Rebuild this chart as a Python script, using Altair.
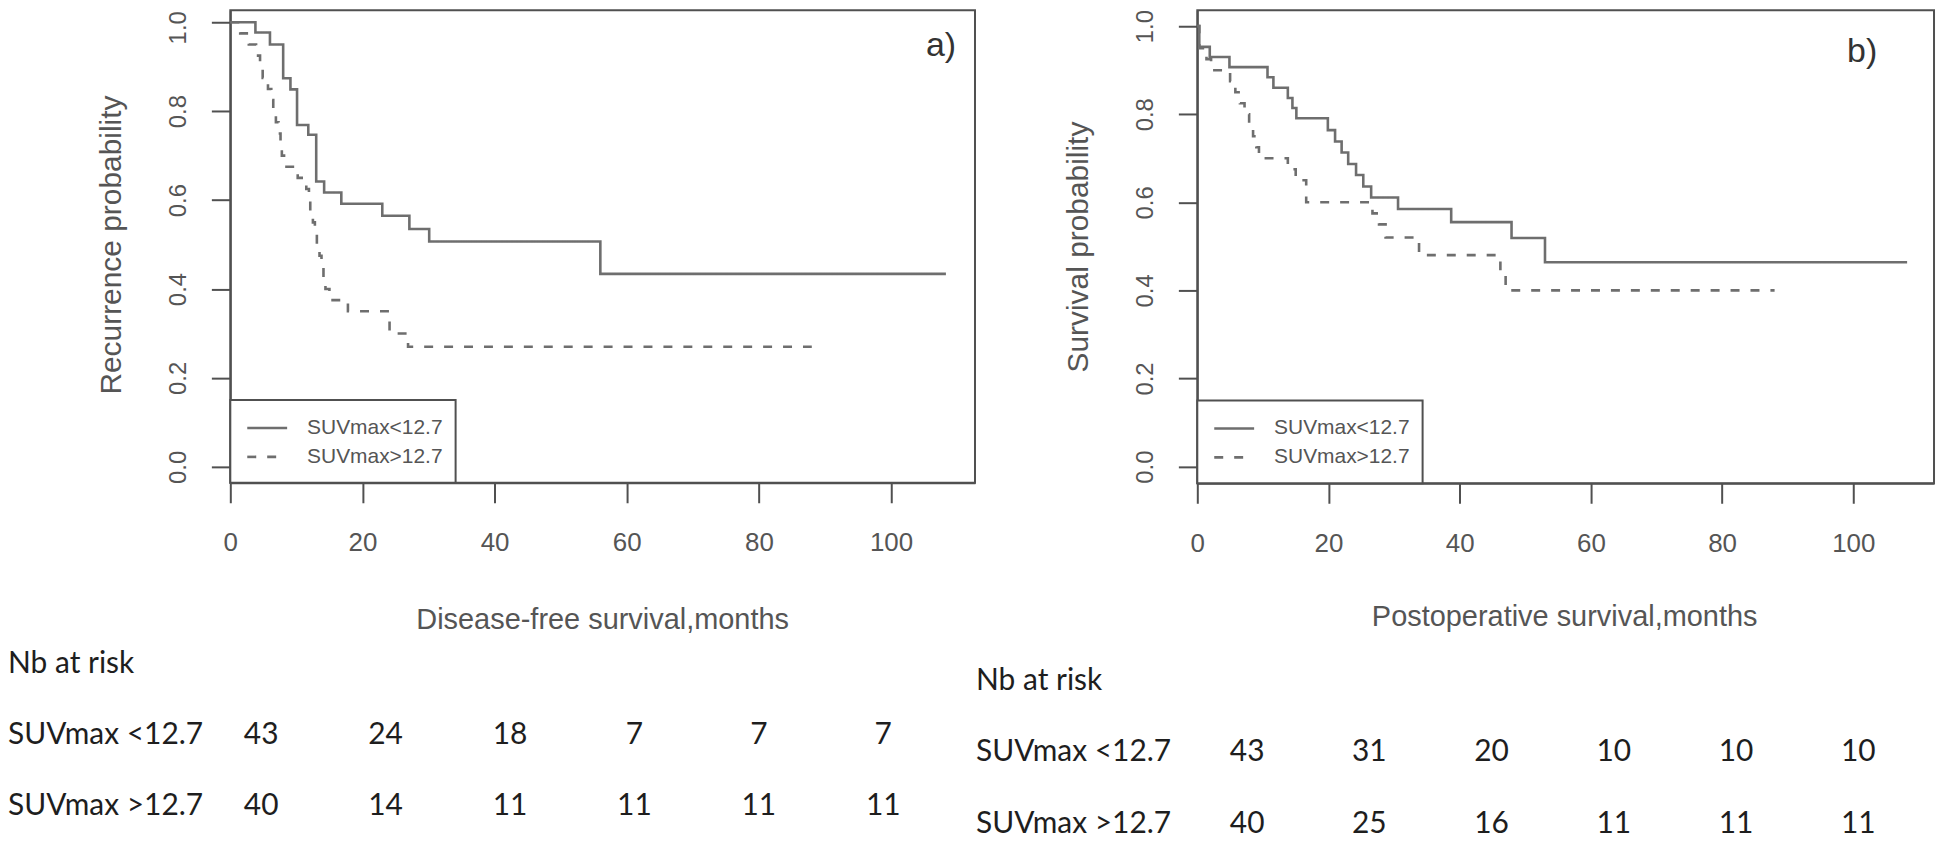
import altair as alt
import pandas as pd

# ------------------------------------------------------------------ data
groups = ["SUVmax<12.7", "SUVmax>12.7"]

# a) Disease-free survival (recurrence probability)
a_low_t = [0, 3.8, 6.0, 8.0, 9.1, 10.1, 11.8, 13.0, 14.2, 16.8, 23.0, 27.1, 30.1, 56.0, 108.3]
a_low_s = [1.0, 0.977, 0.950, 0.874, 0.849, 0.769, 0.747, 0.642, 0.617, 0.592, 0.565, 0.535, 0.507, 0.434, 0.434]
a_high_t = [0, 1.5, 2.8, 3.9, 4.5, 4.9, 5.7, 6.2, 6.5, 6.9, 7.3, 7.6, 7.8, 8.5, 10.2, 11.5, 11.9, 12.1,
            12.5, 12.8, 13.1, 13.5, 13.8, 14.1, 14.4, 15.0, 17.8, 24.1, 26.9, 88.0]
a_high_s = [1.0, 0.975, 0.95, 0.925, 0.90, 0.875, 0.85, 0.825, 0.80, 0.775, 0.75, 0.725, 0.70, 0.675, 0.65,
            0.625, 0.60, 0.575, 0.55, 0.525, 0.50, 0.475, 0.45, 0.425, 0.40, 0.375, 0.35, 0.30, 0.27, 0.27]

# b) Postoperative survival
b_low_t = [0, 0.3, 1.9, 4.9, 10.7, 11.6, 13.8, 14.5, 15.1, 19.9, 21.0, 22.0, 23.0, 24.2, 25.3, 26.5,
           30.6, 38.7, 47.9, 53.0, 108.2]
b_low_s = [1.0, 0.953, 0.930, 0.907, 0.884, 0.860, 0.837, 0.814, 0.791, 0.764, 0.738, 0.713, 0.687,
           0.662, 0.636, 0.611, 0.585, 0.555, 0.519, 0.464, 0.464]
b_high_t = [0, 0.3, 1.4, 2.1, 5.0, 5.8, 6.5, 7.2, 7.9, 8.5, 9.0, 9.4, 13.8, 15.0, 16.6, 26.7, 27.7,
            28.7, 33.8, 46.2, 47.0, 88.0]
b_high_s = [1.0, 0.95, 0.925, 0.90, 0.875, 0.85, 0.825, 0.80, 0.775, 0.75, 0.725, 0.70, 0.675, 0.65,
            0.60, 0.575, 0.55, 0.52, 0.48, 0.44, 0.40, 0.40]

# numbers at risk
risk_times = [0, 20, 40, 60, 80, 100]
risk_rows = ["Nb at risk", "SUVmax <12.7", "SUVmax >12.7"]
a_risk_low = [43, 24, 18, 7, 7, 7]
a_risk_high = [40, 14, 11, 11, 11, 11]
b_risk_low = [43, 31, 20, 10, 10, 10]
b_risk_high = [40, 25, 16, 11, 11, 11]

x_ticks = [0, 20, 40, 60, 80, 100]
y_ticks = [0.0, 0.2, 0.4, 0.6, 0.8, 1.0]

# ------------------------------------------------------------------ style
W, H = 1936, 833
FONT = "Liberation Sans"
TFONT = "Lato"
TXT = "#555555"
AX = "#505050"
CURVE = "#6e6e6e"
DASH = [9, 11]


def km_panel(low_t, low_s, high_t, high_s, xmax, x0, x1, ymin, ymax, ybot, ytop,
             ytitle, xtitle, ytitle_y, xtitle_x, xtitle_y, lab, lab_x, lab_y, top_shift):
    df = pd.concat([
        pd.DataFrame({"time": low_t, "surv": low_s, "group": groups[0]}),
        pd.DataFrame({"time": high_t, "surv": high_s, "group": groups[1]}),
    ])
    xs = alt.Scale(domain=[0, xmax], range=[x0, x1], nice=False, zero=False)
    ys = alt.Scale(domain=[ymin, ymax], range=[ybot, ytop], nice=False, zero=False)

    xaxis = alt.Axis(orient="bottom", offset=ybot - H, values=x_ticks, format="d",
                     tickSize=20, tickWidth=2, tickColor=AX, domainColor=AX, domainWidth=2,
                     labelFont=FONT, labelFontSize=26, labelColor=TXT, labelBaseline="middle",
                     labelPadding=40, labelFlush=False, labelOverlap=False, labelBound=False,
                     grid=False, title=xtitle, titleFont=FONT, titleFontSize=29,
                     titleFontWeight="normal", titleColor=TXT, titleX=xtitle_x, titleY=xtitle_y,
                     titleAlign="center", titleBaseline="middle")
    yaxis = alt.Axis(orient="left", offset=-x0, values=y_ticks, format=".1f",
                     tickSize=19, tickWidth=2, tickColor=AX, domainColor=AX, domainWidth=2,
                     labelFont=FONT, labelFontSize=24, labelColor=TXT, labelAngle=270,
                     labelAlign="center", labelBaseline="middle", labelPadding=33,
                     labelOffset={"condition": {"test": "datum.value >= 0.99", "value": top_shift},
                                  "value": 0},
                     labelFlush=False, labelOverlap=False, labelBound=False, grid=False,
                     title=ytitle, titleFont=FONT, titleFontSize=30, titleFontWeight="normal",
                     titleColor=TXT, titleAngle=270, titleX=-119, titleY=ytitle_y,
                     titleAlign="center", titleBaseline="middle")

    curves = alt.Chart(df).mark_line(interpolate="step-after", strokeWidth=2.6, color=CURVE).encode(
        x=alt.X("time:Q", scale=xs, axis=xaxis),
        y=alt.Y("surv:Q", scale=ys, axis=yaxis),
        strokeDash=alt.StrokeDash("group:N", scale=alt.Scale(domain=groups, range=[[1, 0], DASH]),
                                  legend=None),
        detail="group:N",
    )
    one = pd.DataFrame({"k": [0]})
    box = alt.Chart(one).mark_rect(fillOpacity=0, stroke=AX, strokeWidth=2).encode(
        x=alt.value(x0), x2=alt.value(x1), y=alt.value(ytop), y2=alt.value(ybot))
    lbox = alt.Chart(one).mark_rect(fill="white", stroke=AX, strokeWidth=2).encode(
        x=alt.value(x0), x2=alt.value(x0 + 226), y=alt.value(ybot - 83), y2=alt.value(ybot))
    l1 = alt.Chart(one).mark_rule(strokeWidth=2.6, color=CURVE).encode(
        x=alt.value(x0 + 17), x2=alt.value(x0 + 57), y=alt.value(ybot - 55))
    l2 = alt.Chart(one).mark_rule(strokeWidth=2.6, color=CURVE, strokeDash=DASH).encode(
        x=alt.value(x0 + 17), x2=alt.value(x0 + 57), y=alt.value(ybot - 26))
    t1 = alt.Chart(one).mark_text(align="left", baseline="middle", font=FONT, fontSize=21,
                                  color=TXT).encode(x=alt.value(x0 + 77), y=alt.value(ybot - 55),
                                                    text=alt.value(groups[0]))
    t2 = alt.Chart(one).mark_text(align="left", baseline="middle", font=FONT, fontSize=21,
                                  color=TXT).encode(x=alt.value(x0 + 77), y=alt.value(ybot - 26),
                                                    text=alt.value(groups[1]))
    tag = alt.Chart(one).mark_text(align="right", baseline="middle", font=FONT, fontSize=34,
                                   color="#333333").encode(x=alt.value(lab_x), y=alt.value(lab_y),
                                                           text=alt.value(lab))
    return alt.layer(box, curves, lbox, l1, l2, t1, t2, tag)


def risk_table(low, high, c0, c1, r0, r1, lab_x):
    nums = pd.DataFrame({"time": risk_times + risk_times,
                         "row": [1] * len(low) + [2] * len(high),
                         "n": low + high})
    labs = pd.DataFrame({"row": [0, 1, 2], "label": risk_rows})
    xs = alt.Scale(domain=[0, 100], range=[c0, c1], nice=False, zero=False)
    ys = alt.Scale(domain=[0, 2], range=[r0, r1], nice=False, zero=False)
    n = alt.Chart(nums).mark_text(font=TFONT, fontSize=30, color="#1e1e1e", baseline="middle").encode(
        x=alt.X("time:Q", scale=xs, axis=None),
        y=alt.Y("row:Q", scale=ys, axis=None),
        text="n:Q")
    lab = alt.Chart(labs).mark_text(font=TFONT, fontSize=30, color="#1e1e1e", align="left",
                                    baseline="middle").encode(
        x=alt.value(lab_x),
        y=alt.Y("row:Q", scale=ys, axis=None),
        text="label:N")
    return alt.layer(n, lab)


pa = km_panel(a_low_t, a_low_s, a_high_t, a_high_s, 112.7, 223, 970, -0.0359, 1.027, 475, 1,
              "Recurrence probability", "Disease-free survival,months", 236, 596, 137, "a)", 951, 37, 5)
pb = km_panel(b_low_t, b_low_s, b_high_t, b_high_s, 112.3, 1193, 1932, -0.038, 1.036, 475.5, 1,
              "Survival probability", "Postoperative survival,months", 238, 1561, 134, "b)", 1875, 43, 0)
ta = risk_table(a_risk_low, a_risk_high, 254, 878, 657, 799, 0)
tb = risk_table(b_risk_low, b_risk_high, 1243, 1856, 674, 817, 971)

chart = alt.layer(pa, pb, ta, tb).resolve_scale(
    x="independent", y="independent"
).properties(
    width=W, height=H, padding=0, autosize=alt.AutoSizeParams(type="none"), background="white"
).configure_view(strokeWidth=0)

chart.save("out.html", embed_options={"renderer": "svg", "actions": False})
